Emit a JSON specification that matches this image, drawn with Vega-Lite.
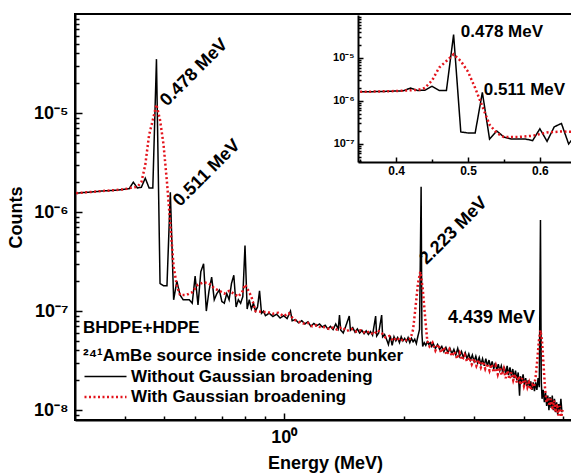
{
  "$schema": "https://vega.github.io/schema/vega-lite/v6.json",
  "autosize": "none",
  "width": 500,
  "height": 406,
  "padding": {"left": 75, "top": 14, "right": 0, "bottom": 55},
  "background": "white",
  "datasets": {
    "spec": [
      {"E":0.302,"C":1.55e-6,"s":"Without Gaussian broadening"},
      {"E":0.32,"C":1.58e-6,"s":"Without Gaussian broadening"},
      {"E":0.34,"C":1.61e-6,"s":"Without Gaussian broadening"},
      {"E":0.35,"C":1.63e-6,"s":"Without Gaussian broadening"},
      {"E":0.36,"C":1.64e-6,"s":"Without Gaussian broadening"},
      {"E":0.38,"C":1.66e-6,"s":"Without Gaussian broadening"},
      {"E":0.40,"C":1.7e-6,"s":"Without Gaussian broadening"},
      {"E":0.41,"C":1.72e-6,"s":"Without Gaussian broadening"},
      {"E":0.42,"C":2.0e-6,"s":"Without Gaussian broadening"},
      {"E":0.43,"C":1.75e-6,"s":"Without Gaussian broadening"},
      {"E":0.44,"C":1.78e-6,"s":"Without Gaussian broadening"},
      {"E":0.45,"C":2.2e-6,"s":"Without Gaussian broadening"},
      {"E":0.46,"C":1.75e-6,"s":"Without Gaussian broadening"},
      {"E":0.47,"C":1.75e-6,"s":"Without Gaussian broadening"},
      {"E":0.48,"C":3.5e-5,"s":"Without Gaussian broadening"},
      {"E":0.49,"C":1.9e-7,"s":"Without Gaussian broadening"},
      {"E":0.50,"C":1.8e-7,"s":"Without Gaussian broadening"},
      {"E":0.51,"C":1.8e-7,"s":"Without Gaussian broadening"},
      {"E":0.52,"C":1.58e-6,"s":"Without Gaussian broadening"},
      {"E":0.53,"C":1.3e-7,"s":"Without Gaussian broadening"},
      {"E":0.54,"C":2.0e-7,"s":"Without Gaussian broadening"},
      {"E":0.55,"C":1.45e-7,"s":"Without Gaussian broadening"},
      {"E":0.56,"C":1.3e-7,"s":"Without Gaussian broadening"},
      {"E":0.57,"C":1.3e-7,"s":"Without Gaussian broadening"},
      {"E":0.58,"C":1.3e-7,"s":"Without Gaussian broadening"},
      {"E":0.59,"C":1.2e-7,"s":"Without Gaussian broadening"},
      {"E":0.60,"C":2.25e-7,"s":"Without Gaussian broadening"},
      {"E":0.61,"C":1.15e-7,"s":"Without Gaussian broadening"},
      {"E":0.62,"C":2.5e-7,"s":"Without Gaussian broadening"},
      {"E":0.63,"C":3.0e-7,"s":"Without Gaussian broadening"},
      {"E":0.64,"C":1.0e-7,"s":"Without Gaussian broadening"},
      {"E":0.65,"C":1.6e-7,"s":"Without Gaussian broadening"},
      {"E":0.66,"C":2.2e-7,"s":"Without Gaussian broadening"},
      {"E":0.67,"C":1.3e-7,"s":"Without Gaussian broadening"},
      {"E":0.68,"C":1.5e-7,"s":"Without Gaussian broadening"},
      {"E":0.69,"C":1.63e-7,"s":"Without Gaussian broadening"},
      {"E":0.70,"C":1.25e-7,"s":"Without Gaussian broadening"},
      {"E":0.71,"C":1.2e-7,"s":"Without Gaussian broadening"},
      {"E":0.72,"C":1.5e-7,"s":"Without Gaussian broadening"},
      {"E":0.73,"C":1.3e-7,"s":"Without Gaussian broadening"},
      {"E":0.74,"C":1.9e-7,"s":"Without Gaussian broadening"},
      {"E":0.75,"C":2.3e-7,"s":"Without Gaussian broadening"},
      {"E":0.76,"C":1.1e-7,"s":"Without Gaussian broadening"},
      {"E":0.77,"C":1.3e-7,"s":"Without Gaussian broadening"},
      {"E":0.78,"C":1.2e-7,"s":"Without Gaussian broadening"},
      {"E":0.79,"C":1.4e-7,"s":"Without Gaussian broadening"},
      {"E":0.80,"C":4.6e-7,"s":"Without Gaussian broadening"},
      {"E":0.81,"C":1.05e-7,"s":"Without Gaussian broadening"},
      {"E":0.82,"C":1.3e-7,"s":"Without Gaussian broadening"},
      {"E":0.83,"C":1.05e-7,"s":"Without Gaussian broadening"},
      {"E":0.84,"C":1.2e-7,"s":"Without Gaussian broadening"},
      {"E":0.85,"C":1.0e-7,"s":"Without Gaussian broadening"},
      {"E":0.86,"C":1.1e-7,"s":"Without Gaussian broadening"},
      {"E":0.87,"C":1.6e-7,"s":"Without Gaussian broadening"},
      {"E":0.88,"C":9.5e-8,"s":"Without Gaussian broadening"},
      {"E":0.89,"C":1.0e-7,"s":"Without Gaussian broadening"},
      {"E":0.90,"C":9.0e-8,"s":"Without Gaussian broadening"},
      {"E":0.92,"C":9.5e-8,"s":"Without Gaussian broadening"},
      {"E":0.94,"C":8.8e-8,"s":"Without Gaussian broadening"},
      {"E":0.96,"C":9.3e-8,"s":"Without Gaussian broadening"},
      {"E":0.98,"C":8.5e-8,"s":"Without Gaussian broadening"},
      {"E":1.00,"C":9.0e-8,"s":"Without Gaussian broadening"},
      {"E":1.02,"C":8.4e-8,"s":"Without Gaussian broadening"},
      {"E":1.04,"C":1.0e-7,"s":"Without Gaussian broadening"},
      {"E":1.05,"C":8.0e-8,"s":"Without Gaussian broadening"},
      {"E":1.07,"C":8.2e-8,"s":"Without Gaussian broadening"},
      {"E":1.09,"C":7.6e-8,"s":"Without Gaussian broadening"},
      {"E":1.11,"C":8.0e-8,"s":"Without Gaussian broadening"},
      {"E":1.13,"C":7.4e-8,"s":"Without Gaussian broadening"},
      {"E":1.15,"C":7.8e-8,"s":"Without Gaussian broadening"},
      {"E":1.17,"C":7.0e-8,"s":"Without Gaussian broadening"},
      {"E":1.19,"C":7.5e-8,"s":"Without Gaussian broadening"},
      {"E":1.21,"C":7.1e-8,"s":"Without Gaussian broadening"},
      {"E":1.23,"C":7.4e-8,"s":"Without Gaussian broadening"},
      {"E":1.25,"C":6.9e-8,"s":"Without Gaussian broadening"},
      {"E":1.27,"C":7.2e-8,"s":"Without Gaussian broadening"},
      {"E":1.29,"C":6.6e-8,"s":"Without Gaussian broadening"},
      {"E":1.31,"C":7.0e-8,"s":"Without Gaussian broadening"},
      {"E":1.33,"C":6.5e-8,"s":"Without Gaussian broadening"},
      {"E":1.35,"C":7.4e-8,"s":"Without Gaussian broadening"},
      {"E":1.37,"C":6.6e-8,"s":"Without Gaussian broadening"},
      {"E":1.38,"C":9.1e-8,"s":"Without Gaussian broadening"},
      {"E":1.39,"C":6.4e-8,"s":"Without Gaussian broadening"},
      {"E":1.41,"C":6.0e-8,"s":"Without Gaussian broadening"},
      {"E":1.43,"C":7.0e-8,"s":"Without Gaussian broadening"},
      {"E":1.46,"C":8.9e-8,"s":"Without Gaussian broadening"},
      {"E":1.47,"C":6.4e-8,"s":"Without Gaussian broadening"},
      {"E":1.49,"C":6.8e-8,"s":"Without Gaussian broadening"},
      {"E":1.51,"C":6.1e-8,"s":"Without Gaussian broadening"},
      {"E":1.53,"C":6.6e-8,"s":"Without Gaussian broadening"},
      {"E":1.55,"C":6.0e-8,"s":"Without Gaussian broadening"},
      {"E":1.57,"C":6.4e-8,"s":"Without Gaussian broadening"},
      {"E":1.59,"C":5.9e-8,"s":"Without Gaussian broadening"},
      {"E":1.61,"C":6.3e-8,"s":"Without Gaussian broadening"},
      {"E":1.63,"C":5.8e-8,"s":"Without Gaussian broadening"},
      {"E":1.65,"C":6.2e-8,"s":"Without Gaussian broadening"},
      {"E":1.67,"C":5.7e-8,"s":"Without Gaussian broadening"},
      {"E":1.70,"C":8.9e-8,"s":"Without Gaussian broadening"},
      {"E":1.71,"C":5.6e-8,"s":"Without Gaussian broadening"},
      {"E":1.73,"C":6.0e-8,"s":"Without Gaussian broadening"},
      {"E":1.76,"C":9.1e-8,"s":"Without Gaussian broadening"},
      {"E":1.77,"C":5.5e-8,"s":"Without Gaussian broadening"},
      {"E":1.79,"C":5.8e-8,"s":"Without Gaussian broadening"},
      {"E":1.81,"C":5.2e-8,"s":"Without Gaussian broadening"},
      {"E":1.83,"C":4.6e-8,"s":"Without Gaussian broadening"},
      {"E":1.85,"C":5.6e-8,"s":"Without Gaussian broadening"},
      {"E":1.87,"C":4.5e-8,"s":"Without Gaussian broadening"},
      {"E":1.89,"C":5.5e-8,"s":"Without Gaussian broadening"},
      {"E":1.91,"C":5.0e-8,"s":"Without Gaussian broadening"},
      {"E":1.93,"C":5.4e-8,"s":"Without Gaussian broadening"},
      {"E":1.95,"C":4.8e-8,"s":"Without Gaussian broadening"},
      {"E":1.97,"C":5.5e-8,"s":"Without Gaussian broadening"},
      {"E":1.99,"C":5.0e-8,"s":"Without Gaussian broadening"},
      {"E":2.01,"C":5.3e-8,"s":"Without Gaussian broadening"},
      {"E":2.03,"C":4.9e-8,"s":"Without Gaussian broadening"},
      {"E":2.05,"C":5.4e-8,"s":"Without Gaussian broadening"},
      {"E":2.07,"C":4.8e-8,"s":"Without Gaussian broadening"},
      {"E":2.09,"C":5.3e-8,"s":"Without Gaussian broadening"},
      {"E":2.11,"C":4.9e-8,"s":"Without Gaussian broadening"},
      {"E":2.13,"C":5.2e-8,"s":"Without Gaussian broadening"},
      {"E":2.15,"C":4.7e-8,"s":"Without Gaussian broadening"},
      {"E":2.17,"C":5.6e-8,"s":"Without Gaussian broadening"},
      {"E":2.19,"C":6.5e-8,"s":"Without Gaussian broadening"},
      {"E":2.21,"C":1.8e-6,"s":"Without Gaussian broadening"},
      {"E":2.22,"C":6.0e-8,"s":"Without Gaussian broadening"},
      {"E":2.23,"C":4.4e-8,"s":"Without Gaussian broadening"},
      {"E":2.25,"C":4.8e-8,"s":"Without Gaussian broadening"},
      {"E":2.27,"C":4.5e-8,"s":"Without Gaussian broadening"},
      {"E":2.29,"C":4.9e-8,"s":"Without Gaussian broadening"},
      {"E":2.31,"C":4.6e-8,"s":"Without Gaussian broadening"},
      {"E":2.33,"C":4.8e-8,"s":"Without Gaussian broadening"},
      {"E":2.35,"C":4.4e-8,"s":"Without Gaussian broadening"},
      {"E":2.37,"C":4.7e-8,"s":"Without Gaussian broadening"},
      {"E":2.40,"C":4.2e-8,"s":"Without Gaussian broadening"},
      {"E":2.43,"C":4.6e-8,"s":"Without Gaussian broadening"},
      {"E":2.46,"C":4.1e-8,"s":"Without Gaussian broadening"},
      {"E":2.49,"C":4.4e-8,"s":"Without Gaussian broadening"},
      {"E":2.52,"C":3.9e-8,"s":"Without Gaussian broadening"},
      {"E":2.55,"C":4.3e-8,"s":"Without Gaussian broadening"},
      {"E":2.58,"C":3.8e-8,"s":"Without Gaussian broadening"},
      {"E":2.61,"C":4.2e-8,"s":"Without Gaussian broadening"},
      {"E":2.64,"C":3.7e-8,"s":"Without Gaussian broadening"},
      {"E":2.67,"C":4.1e-8,"s":"Without Gaussian broadening"},
      {"E":2.70,"C":3.6e-8,"s":"Without Gaussian broadening"},
      {"E":2.73,"C":4.2e-8,"s":"Without Gaussian broadening"},
      {"E":2.76,"C":3.5e-8,"s":"Without Gaussian broadening"},
      {"E":2.79,"C":3.9e-8,"s":"Without Gaussian broadening"},
      {"E":2.82,"C":3.4e-8,"s":"Without Gaussian broadening"},
      {"E":2.85,"C":3.8e-8,"s":"Without Gaussian broadening"},
      {"E":2.88,"C":3.3e-8,"s":"Without Gaussian broadening"},
      {"E":2.91,"C":3.7e-8,"s":"Without Gaussian broadening"},
      {"E":2.94,"C":3.2e-8,"s":"Without Gaussian broadening"},
      {"E":2.97,"C":3.6e-8,"s":"Without Gaussian broadening"},
      {"E":3.00,"C":3.1e-8,"s":"Without Gaussian broadening"},
      {"E":3.03,"C":3.5e-8,"s":"Without Gaussian broadening"},
      {"E":3.06,"C":3.0e-8,"s":"Without Gaussian broadening"},
      {"E":3.09,"C":3.4e-8,"s":"Without Gaussian broadening"},
      {"E":3.12,"C":2.9e-8,"s":"Without Gaussian broadening"},
      {"E":3.15,"C":3.3e-8,"s":"Without Gaussian broadening"},
      {"E":3.18,"C":2.8e-8,"s":"Without Gaussian broadening"},
      {"E":3.21,"C":3.3e-8,"s":"Without Gaussian broadening"},
      {"E":3.24,"C":2.8e-8,"s":"Without Gaussian broadening"},
      {"E":3.27,"C":3.2e-8,"s":"Without Gaussian broadening"},
      {"E":3.30,"C":2.7e-8,"s":"Without Gaussian broadening"},
      {"E":3.33,"C":3.1e-8,"s":"Without Gaussian broadening"},
      {"E":3.36,"C":2.6e-8,"s":"Without Gaussian broadening"},
      {"E":3.39,"C":3.0e-8,"s":"Without Gaussian broadening"},
      {"E":3.42,"C":2.55e-8,"s":"Without Gaussian broadening"},
      {"E":3.45,"C":2.9e-8,"s":"Without Gaussian broadening"},
      {"E":3.48,"C":2.5e-8,"s":"Without Gaussian broadening"},
      {"E":3.51,"C":2.8e-8,"s":"Without Gaussian broadening"},
      {"E":3.54,"C":2.4e-8,"s":"Without Gaussian broadening"},
      {"E":3.57,"C":2.75e-8,"s":"Without Gaussian broadening"},
      {"E":3.60,"C":2.3e-8,"s":"Without Gaussian broadening"},
      {"E":3.63,"C":2.8e-8,"s":"Without Gaussian broadening"},
      {"E":3.66,"C":2.25e-8,"s":"Without Gaussian broadening"},
      {"E":3.69,"C":2.7e-8,"s":"Without Gaussian broadening"},
      {"E":3.72,"C":2.2e-8,"s":"Without Gaussian broadening"},
      {"E":3.75,"C":2.6e-8,"s":"Without Gaussian broadening"},
      {"E":3.78,"C":2.1e-8,"s":"Without Gaussian broadening"},
      {"E":3.81,"C":2.5e-8,"s":"Without Gaussian broadening"},
      {"E":3.84,"C":2.0e-8,"s":"Without Gaussian broadening"},
      {"E":3.87,"C":2.4e-8,"s":"Without Gaussian broadening"},
      {"E":3.90,"C":1.4e-8,"s":"Without Gaussian broadening"},
      {"E":3.92,"C":2.2e-8,"s":"Without Gaussian broadening"},
      {"E":3.95,"C":1.9e-8,"s":"Without Gaussian broadening"},
      {"E":3.98,"C":2.3e-8,"s":"Without Gaussian broadening"},
      {"E":4.01,"C":1.8e-8,"s":"Without Gaussian broadening"},
      {"E":4.04,"C":2.1e-8,"s":"Without Gaussian broadening"},
      {"E":4.07,"C":1.75e-8,"s":"Without Gaussian broadening"},
      {"E":4.10,"C":2.0e-8,"s":"Without Gaussian broadening"},
      {"E":4.13,"C":1.7e-8,"s":"Without Gaussian broadening"},
      {"E":4.16,"C":1.95e-8,"s":"Without Gaussian broadening"},
      {"E":4.19,"C":1.6e-8,"s":"Without Gaussian broadening"},
      {"E":4.22,"C":1.9e-8,"s":"Without Gaussian broadening"},
      {"E":4.25,"C":1.55e-8,"s":"Without Gaussian broadening"},
      {"E":4.28,"C":1.9e-8,"s":"Without Gaussian broadening"},
      {"E":4.31,"C":1.6e-8,"s":"Without Gaussian broadening"},
      {"E":4.34,"C":2.1e-8,"s":"Without Gaussian broadening"},
      {"E":4.37,"C":1.7e-8,"s":"Without Gaussian broadening"},
      {"E":4.40,"C":8.3e-7,"s":"Without Gaussian broadening"},
      {"E":4.42,"C":2.0e-8,"s":"Without Gaussian broadening"},
      {"E":4.44,"C":1.3e-8,"s":"Without Gaussian broadening"},
      {"E":4.47,"C":1.6e-8,"s":"Without Gaussian broadening"},
      {"E":4.50,"C":1.2e-8,"s":"Without Gaussian broadening"},
      {"E":4.53,"C":1.5e-8,"s":"Without Gaussian broadening"},
      {"E":4.56,"C":1.1e-8,"s":"Without Gaussian broadening"},
      {"E":4.59,"C":1.4e-8,"s":"Without Gaussian broadening"},
      {"E":4.62,"C":1.0e-8,"s":"Without Gaussian broadening"},
      {"E":4.65,"C":1.35e-8,"s":"Without Gaussian broadening"},
      {"E":4.68,"C":1.05e-8,"s":"Without Gaussian broadening"},
      {"E":4.71,"C":1.4e-8,"s":"Without Gaussian broadening"},
      {"E":4.74,"C":1.0e-8,"s":"Without Gaussian broadening"},
      {"E":4.77,"C":1.3e-8,"s":"Without Gaussian broadening"},
      {"E":4.80,"C":9.5e-9,"s":"Without Gaussian broadening"},
      {"E":4.83,"C":1.2e-8,"s":"Without Gaussian broadening"},
      {"E":4.86,"C":9.0e-9,"s":"Without Gaussian broadening"},
      {"E":4.89,"C":1.15e-8,"s":"Without Gaussian broadening"},
      {"E":4.92,"C":1.0e-8,"s":"Without Gaussian broadening"},
      {"E":4.95,"C":1.3e-8,"s":"Without Gaussian broadening"},
      {"E":4.98,"C":9.5e-9,"s":"Without Gaussian broadening"},
      {"E":0.302,"C":1.55e-6,"s":"With Gaussian broadening"},
      {"E":0.32,"C":1.58e-6,"s":"With Gaussian broadening"},
      {"E":0.34,"C":1.61e-6,"s":"With Gaussian broadening"},
      {"E":0.35,"C":1.63e-6,"s":"With Gaussian broadening"},
      {"E":0.36,"C":1.64e-6,"s":"With Gaussian broadening"},
      {"E":0.38,"C":1.67e-6,"s":"With Gaussian broadening"},
      {"E":0.40,"C":1.7e-6,"s":"With Gaussian broadening"},
      {"E":0.42,"C":1.78e-6,"s":"With Gaussian broadening"},
      {"E":0.43,"C":1.8e-6,"s":"With Gaussian broadening"},
      {"E":0.44,"C":2.0e-6,"s":"With Gaussian broadening"},
      {"E":0.45,"C":3.0e-6,"s":"With Gaussian broadening"},
      {"E":0.46,"C":6.0e-6,"s":"With Gaussian broadening"},
      {"E":0.47,"C":8.5e-6,"s":"With Gaussian broadening"},
      {"E":0.48,"C":1.22e-5,"s":"With Gaussian broadening"},
      {"E":0.49,"C":8.5e-6,"s":"With Gaussian broadening"},
      {"E":0.50,"C":4.8e-6,"s":"With Gaussian broadening"},
      {"E":0.51,"C":2.0e-6,"s":"With Gaussian broadening"},
      {"E":0.52,"C":7.5e-7,"s":"With Gaussian broadening"},
      {"E":0.53,"C":2.8e-7,"s":"With Gaussian broadening"},
      {"E":0.54,"C":1.8e-7,"s":"With Gaussian broadening"},
      {"E":0.55,"C":1.45e-7,"s":"With Gaussian broadening"},
      {"E":0.57,"C":1.45e-7,"s":"With Gaussian broadening"},
      {"E":0.59,"C":1.55e-7,"s":"With Gaussian broadening"},
      {"E":0.61,"C":1.85e-7,"s":"With Gaussian broadening"},
      {"E":0.63,"C":1.95e-7,"s":"With Gaussian broadening"},
      {"E":0.65,"C":1.9e-7,"s":"With Gaussian broadening"},
      {"E":0.67,"C":1.7e-7,"s":"With Gaussian broadening"},
      {"E":0.69,"C":1.6e-7,"s":"With Gaussian broadening"},
      {"E":0.71,"C":1.5e-7,"s":"With Gaussian broadening"},
      {"E":0.73,"C":1.6e-7,"s":"With Gaussian broadening"},
      {"E":0.75,"C":1.5e-7,"s":"With Gaussian broadening"},
      {"E":0.77,"C":1.4e-7,"s":"With Gaussian broadening"},
      {"E":0.79,"C":1.6e-7,"s":"With Gaussian broadening"},
      {"E":0.80,"C":1.85e-7,"s":"With Gaussian broadening"},
      {"E":0.81,"C":1.7e-7,"s":"With Gaussian broadening"},
      {"E":0.83,"C":1.4e-7,"s":"With Gaussian broadening"},
      {"E":0.85,"C":1.0e-7,"s":"With Gaussian broadening"},
      {"E":0.88,"C":9.8e-8,"s":"With Gaussian broadening"},
      {"E":0.91,"C":9.8e-8,"s":"With Gaussian broadening"},
      {"E":0.94,"C":9.4e-8,"s":"With Gaussian broadening"},
      {"E":0.97,"C":9.6e-8,"s":"With Gaussian broadening"},
      {"E":1.00,"C":8.9e-8,"s":"With Gaussian broadening"},
      {"E":1.03,"C":9.5e-8,"s":"With Gaussian broadening"},
      {"E":1.06,"C":8.2e-8,"s":"With Gaussian broadening"},
      {"E":1.09,"C":7.8e-8,"s":"With Gaussian broadening"},
      {"E":1.12,"C":7.5e-8,"s":"With Gaussian broadening"},
      {"E":1.15,"C":7.6e-8,"s":"With Gaussian broadening"},
      {"E":1.18,"C":7.0e-8,"s":"With Gaussian broadening"},
      {"E":1.21,"C":7.2e-8,"s":"With Gaussian broadening"},
      {"E":1.24,"C":6.8e-8,"s":"With Gaussian broadening"},
      {"E":1.27,"C":6.9e-8,"s":"With Gaussian broadening"},
      {"E":1.30,"C":6.6e-8,"s":"With Gaussian broadening"},
      {"E":1.33,"C":6.8e-8,"s":"With Gaussian broadening"},
      {"E":1.36,"C":6.5e-8,"s":"With Gaussian broadening"},
      {"E":1.40,"C":6.9e-8,"s":"With Gaussian broadening"},
      {"E":1.44,"C":6.3e-8,"s":"With Gaussian broadening"},
      {"E":1.48,"C":6.6e-8,"s":"With Gaussian broadening"},
      {"E":1.52,"C":6.2e-8,"s":"With Gaussian broadening"},
      {"E":1.56,"C":6.4e-8,"s":"With Gaussian broadening"},
      {"E":1.60,"C":6.0e-8,"s":"With Gaussian broadening"},
      {"E":1.64,"C":6.2e-8,"s":"With Gaussian broadening"},
      {"E":1.68,"C":5.8e-8,"s":"With Gaussian broadening"},
      {"E":1.72,"C":6.4e-8,"s":"With Gaussian broadening"},
      {"E":1.76,"C":6.0e-8,"s":"With Gaussian broadening"},
      {"E":1.80,"C":5.4e-8,"s":"With Gaussian broadening"},
      {"E":1.84,"C":5.6e-8,"s":"With Gaussian broadening"},
      {"E":1.88,"C":5.0e-8,"s":"With Gaussian broadening"},
      {"E":1.92,"C":5.4e-8,"s":"With Gaussian broadening"},
      {"E":1.96,"C":5.0e-8,"s":"With Gaussian broadening"},
      {"E":2.00,"C":5.2e-8,"s":"With Gaussian broadening"},
      {"E":2.04,"C":5.0e-8,"s":"With Gaussian broadening"},
      {"E":2.08,"C":5.3e-8,"s":"With Gaussian broadening"},
      {"E":2.11,"C":6.5e-8,"s":"With Gaussian broadening"},
      {"E":2.14,"C":1.1e-7,"s":"With Gaussian broadening"},
      {"E":2.17,"C":1.9e-7,"s":"With Gaussian broadening"},
      {"E":2.20,"C":2.5e-7,"s":"With Gaussian broadening"},
      {"E":2.23,"C":1.7e-7,"s":"With Gaussian broadening"},
      {"E":2.26,"C":9.0e-8,"s":"With Gaussian broadening"},
      {"E":2.29,"C":5.0e-8,"s":"With Gaussian broadening"},
      {"E":2.32,"C":4.4e-8,"s":"With Gaussian broadening"},
      {"E":2.36,"C":4.8e-8,"s":"With Gaussian broadening"},
      {"E":2.40,"C":4.0e-8,"s":"With Gaussian broadening"},
      {"E":2.44,"C":4.6e-8,"s":"With Gaussian broadening"},
      {"E":2.48,"C":3.8e-8,"s":"With Gaussian broadening"},
      {"E":2.52,"C":4.3e-8,"s":"With Gaussian broadening"},
      {"E":2.56,"C":3.6e-8,"s":"With Gaussian broadening"},
      {"E":2.60,"C":4.1e-8,"s":"With Gaussian broadening"},
      {"E":2.64,"C":3.5e-8,"s":"With Gaussian broadening"},
      {"E":2.68,"C":3.9e-8,"s":"With Gaussian broadening"},
      {"E":2.72,"C":3.3e-8,"s":"With Gaussian broadening"},
      {"E":2.76,"C":3.8e-8,"s":"With Gaussian broadening"},
      {"E":2.80,"C":3.2e-8,"s":"With Gaussian broadening"},
      {"E":2.84,"C":3.6e-8,"s":"With Gaussian broadening"},
      {"E":2.88,"C":3.1e-8,"s":"With Gaussian broadening"},
      {"E":2.92,"C":3.4e-8,"s":"With Gaussian broadening"},
      {"E":2.96,"C":2.9e-8,"s":"With Gaussian broadening"},
      {"E":3.00,"C":3.3e-8,"s":"With Gaussian broadening"},
      {"E":3.04,"C":2.8e-8,"s":"With Gaussian broadening"},
      {"E":3.08,"C":3.2e-8,"s":"With Gaussian broadening"},
      {"E":3.12,"C":2.7e-8,"s":"With Gaussian broadening"},
      {"E":3.16,"C":3.1e-8,"s":"With Gaussian broadening"},
      {"E":3.20,"C":2.6e-8,"s":"With Gaussian broadening"},
      {"E":3.24,"C":2.95e-8,"s":"With Gaussian broadening"},
      {"E":3.28,"C":2.5e-8,"s":"With Gaussian broadening"},
      {"E":3.32,"C":2.9e-8,"s":"With Gaussian broadening"},
      {"E":3.36,"C":2.4e-8,"s":"With Gaussian broadening"},
      {"E":3.40,"C":2.8e-8,"s":"With Gaussian broadening"},
      {"E":3.44,"C":2.3e-8,"s":"With Gaussian broadening"},
      {"E":3.48,"C":2.7e-8,"s":"With Gaussian broadening"},
      {"E":3.52,"C":2.25e-8,"s":"With Gaussian broadening"},
      {"E":3.56,"C":2.6e-8,"s":"With Gaussian broadening"},
      {"E":3.60,"C":2.1e-8,"s":"With Gaussian broadening"},
      {"E":3.64,"C":2.5e-8,"s":"With Gaussian broadening"},
      {"E":3.68,"C":2.05e-8,"s":"With Gaussian broadening"},
      {"E":3.72,"C":2.4e-8,"s":"With Gaussian broadening"},
      {"E":3.76,"C":2.0e-8,"s":"With Gaussian broadening"},
      {"E":3.80,"C":2.3e-8,"s":"With Gaussian broadening"},
      {"E":3.84,"C":1.9e-8,"s":"With Gaussian broadening"},
      {"E":3.88,"C":2.2e-8,"s":"With Gaussian broadening"},
      {"E":3.92,"C":1.8e-8,"s":"With Gaussian broadening"},
      {"E":3.96,"C":2.1e-8,"s":"With Gaussian broadening"},
      {"E":4.00,"C":1.75e-8,"s":"With Gaussian broadening"},
      {"E":4.04,"C":2.0e-8,"s":"With Gaussian broadening"},
      {"E":4.08,"C":1.7e-8,"s":"With Gaussian broadening"},
      {"E":4.12,"C":1.9e-8,"s":"With Gaussian broadening"},
      {"E":4.16,"C":1.6e-8,"s":"With Gaussian broadening"},
      {"E":4.20,"C":1.8e-8,"s":"With Gaussian broadening"},
      {"E":4.24,"C":1.7e-8,"s":"With Gaussian broadening"},
      {"E":4.28,"C":2.2e-8,"s":"With Gaussian broadening"},
      {"E":4.32,"C":3.2e-8,"s":"With Gaussian broadening"},
      {"E":4.36,"C":5.0e-8,"s":"With Gaussian broadening"},
      {"E":4.40,"C":6.4e-8,"s":"With Gaussian broadening"},
      {"E":4.44,"C":5.0e-8,"s":"With Gaussian broadening"},
      {"E":4.48,"C":2.8e-8,"s":"With Gaussian broadening"},
      {"E":4.52,"C":1.6e-8,"s":"With Gaussian broadening"},
      {"E":4.56,"C":1.2e-8,"s":"With Gaussian broadening"},
      {"E":4.60,"C":1.35e-8,"s":"With Gaussian broadening"},
      {"E":4.64,"C":1.1e-8,"s":"With Gaussian broadening"},
      {"E":4.68,"C":1.3e-8,"s":"With Gaussian broadening"},
      {"E":4.72,"C":1.0e-8,"s":"With Gaussian broadening"},
      {"E":4.76,"C":1.25e-8,"s":"With Gaussian broadening"},
      {"E":4.80,"C":9.5e-9,"s":"With Gaussian broadening"},
      {"E":4.84,"C":1.15e-8,"s":"With Gaussian broadening"},
      {"E":4.88,"C":8.8e-9,"s":"With Gaussian broadening"},
      {"E":4.92,"C":1.1e-8,"s":"With Gaussian broadening"},
      {"E":4.96,"C":8.5e-9,"s":"With Gaussian broadening"},
      {"E":5.00,"C":1.0e-8,"s":"With Gaussian broadening"}
    ],
    "mainRot": [
      {"E":0.51,"C":1.15e-5,"t":"0.478 MeV"},
      {"E":0.55,"C":1.12e-6,"t":"0.511 MeV"},
      {"E":2.28,"C":2.9e-7,"t":"2.223 MeV"}
    ],
    "mainFlat": [
      {"E":2.58,"C":7.6e-8,"t":"4.439 MeV"}
    ],
    "insetText": [
      {"E":0.49,"C":3.1e-5,"t":"0.478 MeV"},
      {"E":0.522,"C":1.38e-6,"t":"0.511 MeV"}
    ]
  },
  "layer": [
    {
      "layer": [
        {
          "encoding": {
            "x": {"field": "E", "type": "quantitative",
              "scale": {"type": "log", "domain": [0.3, 5.37], "nice": false},
              "axis": {"orient": "bottom", "values": [1], "tickSize": -7, "labelPadding": 15,
                "labelExpr": "datum.value == 1 ? '10⁰' : ''", "labelFontSize": 18,
                "title": "Energy (MeV)", "titleFontSize": 18, "titlePadding": 8}},
            "y": {"field": "C", "type": "quantitative",
              "scale": {"type": "log", "domain": [7.94e-9, 1e-4], "nice": false},
              "axis": {"orient": "left", "values": [1e-8, 1e-7, 1e-6, 1e-5], "tickSize": -7, "labelPadding": 14,
                "labelExpr": "'10⁻' + ['⁰','¹','²','³','⁴','⁵','⁶','⁷','⁸','⁹'][-round(log(datum.value)/LN10)]",
                "labelFontSize": 18, "title": "Counts", "titleFontSize": 18, "titlePadding": 8}}
          },
          "layer": [
            {
              "data": {"name": "spec"},
              "mark": {"type": "line", "interpolate": "linear"},
              "encoding": {
                "color": {"field": "s", "type": "nominal",
                  "scale": {"domain": ["Without Gaussian broadening", "With Gaussian broadening"], "range": ["#000000", "#e3131b"]},
                  "legend": {"orient": "none", "legendX": 8, "legendY": 306, "symbolType": "M-1,0H3",
                    "title": ["BHDPE+HDPE", "²⁴¹AmBe source inside concrete bunker"]}},
                "strokeDash": {"field": "s", "type": "nominal",
                  "scale": {"domain": ["Without Gaussian broadening", "With Gaussian broadening"], "range": [[1, 0], [2, 2.5]]},
                  "legend": {"orient": "none", "legendX": 8, "legendY": 306, "symbolType": "M-1,0H3",
                    "title": ["BHDPE+HDPE", "²⁴¹AmBe source inside concrete bunker"]}},
                "strokeWidth": {"field": "s", "type": "nominal",
                  "scale": {"domain": ["Without Gaussian broadening", "With Gaussian broadening"], "range": [1.5, 2.5]},
                  "legend": {"orient": "none", "legendX": 8, "legendY": 306, "symbolType": "M-1,0H3",
                    "title": ["BHDPE+HDPE", "²⁴¹AmBe source inside concrete bunker"]}}
              }
            },
            {
              "data": {"name": "mainRot"},
              "mark": {"type": "text", "angle": 315, "align": "left", "baseline": "alphabetic",
                "font": "Liberation Sans", "fontWeight": "bold", "fontSize": 18, "color": "black"},
              "encoding": {"text": {"field": "t"}}
            },
            {
              "data": {"name": "mainFlat"},
              "mark": {"type": "text", "align": "left", "baseline": "alphabetic",
                "font": "Liberation Sans", "fontWeight": "bold", "fontSize": 18, "color": "black"},
              "encoding": {"text": {"field": "t"}}
            }
          ]
        },
        {
          "data": {"name": "mainFlat"},
          "mark": {"type": "point", "opacity": 0},
          "encoding": {
            "x": {"field": "E", "type": "quantitative",
              "axis": {"orient": "bottom", "values": [0.4,0.5,0.6,0.7,0.8,0.9,2,3,4,5], "tickSize": -4,
                "labels": false, "domain": false, "title": null}},
            "y": {"field": "C", "type": "quantitative",
              "axis": {"orient": "left", "values": [9e-9,2e-8,3e-8,4e-8,5e-8,6e-8,7e-8,8e-8,9e-8,2e-7,3e-7,4e-7,5e-7,6e-7,7e-7,8e-7,9e-7,2e-6,3e-6,4e-6,5e-6,6e-6,7e-6,8e-6,9e-6,2e-5,3e-5,4e-5,5e-5,6e-5,7e-5,8e-5,9e-5],
                "tickSize": -4, "labels": false, "domain": false, "title": null}}
          }
        }
      ],
      "resolve": {"axis": {"x": "independent", "y": "independent"}}
    },
    {
      "layer": [
        {
          "encoding": {
            "x": {"field": "E", "type": "quantitative",
              "scale": {"type": "linear", "domain": [0.347, 0.66], "range": [283, 508], "nice": false, "zero": false},
              "axis": {"orient": "bottom", "offset": -258, "values": [0.4, 0.5, 0.6], "format": ".1f", "tickSize": -5,
                "labelPadding": 8, "labelFontSize": 12, "title": null}},
            "y": {"field": "C", "type": "quantitative",
              "scale": {"type": "log", "domain": [3.8e-8, 1e-4], "range": [148, 1], "nice": false},
              "axis": {"orient": "left", "offset": -283, "values": [1e-7, 1e-6, 1e-5], "tickSize": -5, "labelPadding": 9,
                "labelExpr": "'10⁻' + ['⁰','¹','²','³','⁴','⁵','⁶','⁷','⁸','⁹'][-round(log(datum.value)/LN10)]",
                "labelFontSize": 11, "title": null}}
          },
          "layer": [
            {
              "data": {"name": "spec"},
              "transform": [{"filter": "datum.E >= 0.345 && datum.E <= 0.665"}],
              "mark": {"type": "line", "interpolate": "linear"},
              "encoding": {
                "color": {"field": "s", "type": "nominal"},
                "strokeDash": {"field": "s", "type": "nominal"},
                "strokeWidth": {"field": "s", "type": "nominal"}
              }
            },
            {
              "data": {"name": "insetText"},
              "mark": {"type": "text", "align": "left", "baseline": "alphabetic",
                "font": "Liberation Sans", "fontWeight": "bold", "fontSize": 17, "color": "black"},
              "encoding": {"text": {"field": "t"}}
            }
          ]
        },
        {
          "data": {"name": "insetText"},
          "mark": {"type": "point", "opacity": 0},
          "encoding": {
            "x": {"field": "E", "type": "quantitative",
              "axis": {"orient": "bottom", "offset": -258, "values": [0.35, 0.45, 0.55, 0.65], "tickSize": -3,
                "labels": false, "domain": false, "title": null}},
            "y": {"field": "C", "type": "quantitative",
              "axis": {"orient": "left", "offset": -283, "values": [4e-8,5e-8,6e-8,7e-8,8e-8,9e-8,2e-7,3e-7,4e-7,5e-7,6e-7,7e-7,8e-7,9e-7,2e-6,3e-6,4e-6,5e-6,6e-6,7e-6,8e-6,9e-6,2e-5,3e-5,4e-5,5e-5,6e-5,7e-5,8e-5,9e-5],
                "tickSize": -3, "labels": false, "domain": false, "title": null}}
          }
        }
      ],
      "resolve": {"axis": {"x": "independent", "y": "independent"}}
    }
  ],
  "resolve": {"scale": {"x": "independent", "y": "independent"}, "axis": {"x": "independent", "y": "independent"}},
  "config": {
    "font": "Liberation Sans",
    "view": {"stroke": "#000000", "strokeWidth": 2},
    "axis": {"grid": false, "domainColor": "#000000", "domainWidth": 2, "tickColor": "#000000", "tickWidth": 1.5,
      "labelColor": "#000000", "labelFont": "Liberation Sans", "labelFontWeight": "bold",
      "titleFont": "Liberation Sans", "titleFontWeight": "bold", "titleColor": "#000000"},
    "legend": {"symbolType": "M-1,0H3", "symbolSize": 441, "symbolStrokeWidth": 2, "labelFont": "Liberation Sans",
      "labelFontWeight": "bold", "labelFontSize": 17, "labelColor": "#000000", "labelLimit": 400, "labelOffset": 24,
      "titleFont": "Liberation Sans", "titleFontWeight": "bold", "titleFontSize": 17, "titleColor": "#000000",
      "titleLimit": 400, "titleLineHeight": 28, "titlePadding": 0, "rowPadding": 0, "padding": 0}
  }
}
